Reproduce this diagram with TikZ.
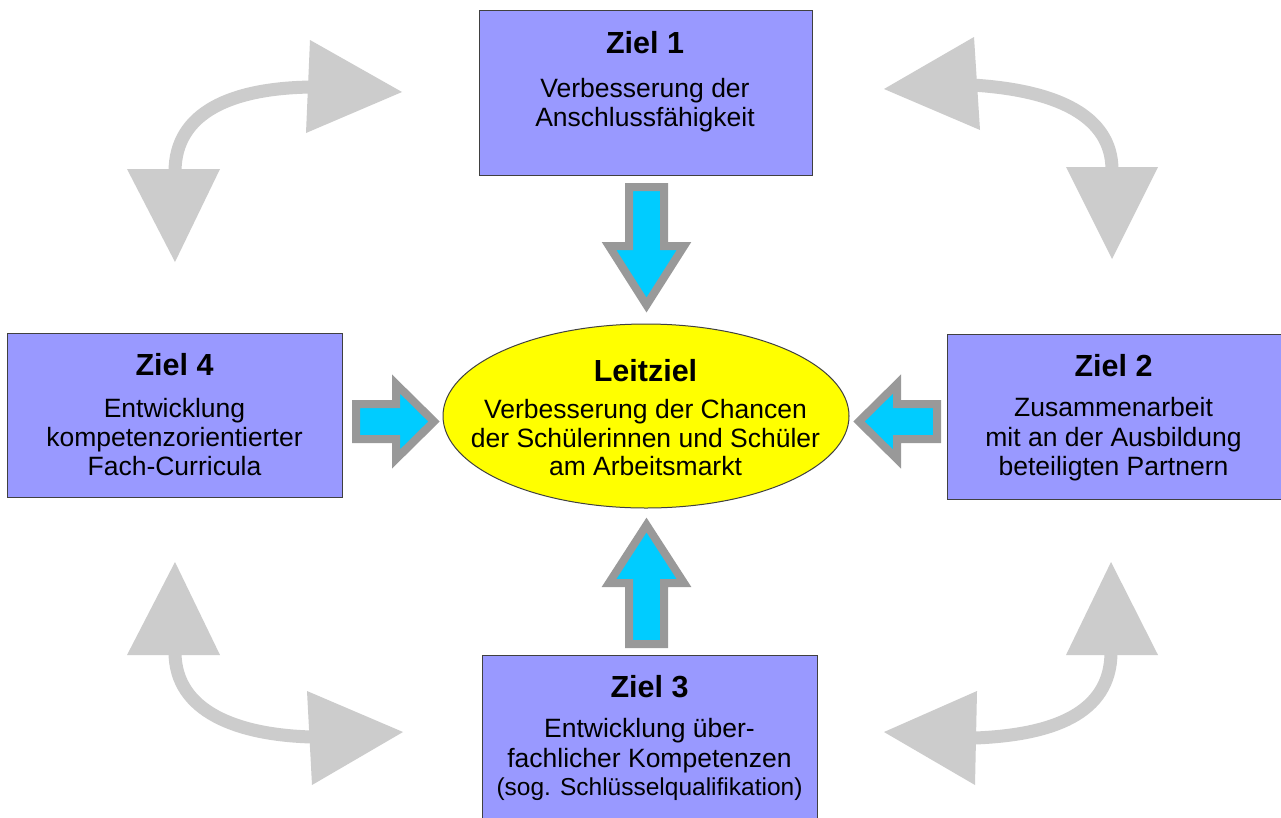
\documentclass[tikz,border=0pt]{standalone}
\usepackage{fontspec}
\setmainfont{Liberation Sans}
\usetikzlibrary{shapes.geometric}
\definecolor{boxfill}{HTML}{9999FF}
\definecolor{boxline}{HTML}{404040}
\definecolor{curvegray}{HTML}{CCCCCC}
\definecolor{arrfill}{HTML}{00CCFF}
\definecolor{arrline}{HTML}{999999}
\definecolor{ellfill}{HTML}{FFFF00}
\begin{document}
\begin{tikzpicture}[x=1pt,y=-1pt,
  goalbox/.style={draw=boxline, line width=1.2pt, fill=boxfill, inner sep=0pt, anchor=north west},
  titletext/.style={anchor=base, inner sep=0pt, font=\fontsize{30.5}{34}\selectfont\bfseries},
  bodytext/.style={anchor=base, inner sep=0pt, font=\fontsize{26.5}{30}\selectfont},
  blockarrow/.style={draw=arrline, fill=arrfill, line width=8pt, line join=miter},
  curveshaft/.style={draw=curvegray, line width=13pt},
  curvehead/.style={fill=curvegray}]
\useasboundingbox (0,0) rectangle (1281,817);
\fill[white] (0,0) rectangle (1281,817);

% gray double arrows
\draw[curveshaft] (175,172) .. controls (175,112) and (232,88) .. (312,87);
\fill[curvehead] (127,169) -- (220,169) -- (175,262) -- cycle;
\fill[curvehead] (310,40) -- (306,133) -- (402,92) -- cycle;

\draw[curveshaft] (972,85) .. controls (1055,90) and (1112,115) .. (1112,170);
\fill[curvehead] (974,37) -- (980,130) -- (884,89) -- cycle;
\fill[curvehead] (1066,167) -- (1158,167) -- (1112,259) -- cycle;

\draw[curveshaft] (175,652) .. controls (175,712) and (238,735) .. (312,737);
\fill[curvehead] (127,655) -- (220,655) -- (175,562) -- cycle;
\fill[curvehead] (307,691) -- (312,785) -- (403,732) -- cycle;

\draw[curveshaft] (1111,652) .. controls (1111,715) and (1050,735) .. (975,738);
\fill[curvehead] (1066,655) -- (1158,655) -- (1111,562) -- cycle;
\fill[curvehead] (977,691) -- (975,785) -- (884,732) -- cycle;

% goal boxes
\node[goalbox, minimum width=333pt, minimum height=165pt] (z1) at (479,10) {};
\node[goalbox, minimum width=335pt, minimum height=164pt] (z4) at (7,333) {};
\node[goalbox, minimum width=335pt, minimum height=165pt] (z2) at (947,334) {};
\node[goalbox, minimum width=335pt, minimum height=180pt] (z3) at (482,655) {};

% central ellipse
\node[ellipse, draw=boxline, line width=1pt, fill=ellfill, minimum width=406pt, minimum height=184pt, inner sep=0pt] (lz) at (646,416) {};

% block arrows
\draw[blockarrow] (629,187) -- (664,187) -- (664,246) -- (684,246) -- (646.5,305) -- (609,246) -- (629,246) -- cycle;
\draw[blockarrow] (629,644) -- (664,644) -- (664,583) -- (684,583) -- (646.5,525) -- (609,583) -- (629,583) -- cycle;
\draw[blockarrow] (356,404) -- (396,404) -- (396,384) -- (434,421.5) -- (396,459) -- (396,439) -- (356,439) -- cycle;
\draw[blockarrow] (937,404) -- (897,404) -- (897,384) -- (859,421.5) -- (897,459) -- (897,439) -- (937,439) -- cycle;

% texts
\node[titletext] (t1) at (645,53) {Ziel 1};
\node[bodytext] (t1a) at (645,97) {Verbesserung der};
\node[bodytext] (t1b) at (645,126) {Anschlussfähigkeit};

\node[titletext] (t4) at (174.5,375) {Ziel 4};
\node[bodytext] (t4a) at (174.5,417) {Entwicklung};
\node[bodytext] (t4b) at (174.5,446) {kompetenzorientierter};
\node[bodytext] (t4c) at (174.5,475) {Fach-Curricula};

\node[titletext] (t2) at (1113.5,376) {Ziel 2};
\node[bodytext] (t2a) at (1113.5,416) {Zusammenarbeit};
\node[bodytext] (t2b) at (1113.5,446) {mit an der Ausbildung};
\node[bodytext] (t2c) at (1113.5,475) {beteiligten Partnern};

\node[titletext] (t3) at (649.5,697) {Ziel 3};
\node[bodytext] (t3a) at (649.5,737) {Entwicklung über-};
\node[bodytext] (t3b) at (649.5,767) {fachlicher Kompetenzen};
\node[bodytext, font=\fontsize{24.5}{28}\selectfont] (t3c) at (649.5,795) {(sog. Schlüsselqualifikation)};

\node[titletext] (tl) at (645.5,381) {Leitziel};
\node[bodytext] (tla) at (645.5,418) {Verbesserung der Chancen};
\node[bodytext] (tlb) at (645.5,447) {der Schülerinnen und Schüler};
\node[bodytext] (tlc) at (645.5,475) {am Arbeitsmarkt};
\end{tikzpicture}
\end{document}
